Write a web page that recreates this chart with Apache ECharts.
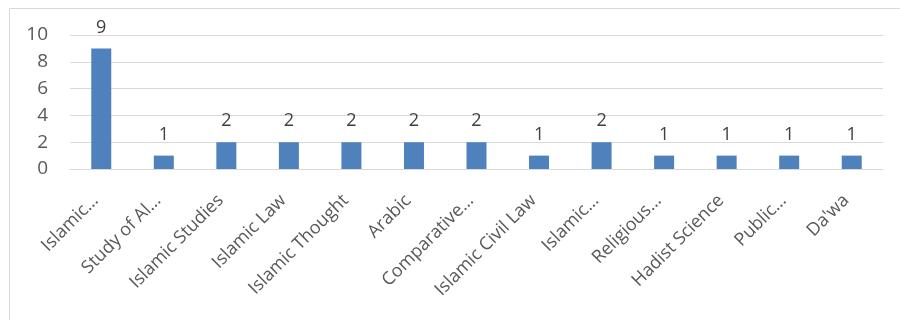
<!DOCTYPE html>
<html>
<head>
<meta charset="utf-8">
<script src="https://cdn.jsdelivr.net/npm/echarts@6/dist/echarts.min.js"></script>
<style>
  html, body { margin: 0; padding: 0; background: #fff; }
  #chart { width: 900px; height: 320px; }
</style>
</head>
<body>
<div id="chart"></div>
<script>
// categories as shown (truncated ones kept as in the picture)
var programs = ['Islamic…', 'Study of Al…', 'Islamic Studies', 'Islamic Law', 'Islamic Thought', 'Arabic',
  'Comparative…', 'Islamic Civil Law', 'Islamic…', 'Religious…', 'Hadist Science', 'Public…', 'Da\'wa'];
var counts = [9, 1, 2, 2, 2, 2, 2, 1, 2, 1, 1, 1, 1];

var yTicks = [0, 2, 4, 6, 8, 10];

var myChart = echarts.init(document.getElementById('chart'));

var option = {
    animation: false,
    textStyle: { fontFamily: 'Open Sans' },
    graphic: [{
        type: 'rect',
        shape: { x: 9.5, y: 8.5, width: 1000, height: 1000 },
        style: { fill: 'none', stroke: '#d9d9d9', lineWidth: 1 }
    }],
    grid: { left: 70, right: 17, top: 35, bottom: 151 },
    xAxis: {
        type: 'category',
        data: programs,
        axisTick: { show: false },
        axisLine: { lineStyle: { color: '#d9d9d9', width: 1 } },
        axisLabel: {
            rotate: 45,
            interval: 0,
            margin: 23,
            padding: [0, 8, 0, 0],
            color: '#595959',
            fontSize: 18
        }
    },
    yAxis: {
        type: 'value',
        min: yTicks[0],
        max: yTicks[yTicks.length - 1],
        interval: 2,
        axisLine: { show: false },
        axisTick: { show: false },
        axisLabel: { color: '#595959', fontSize: 19, margin: 22 },
        splitLine: { lineStyle: { color: '#d9d9d9', width: 1 } }
    },
    series: [{
        type: 'bar',
        data: counts,
        barWidth: 20,
        itemStyle: { color: '#4f81bd' },
        label: {
            show: true,
            position: 'top',
            distance: 12,
            color: '#404040',
            fontSize: 18
        }
    }]
};

myChart.setOption(option);
</script>
</body>
</html>
